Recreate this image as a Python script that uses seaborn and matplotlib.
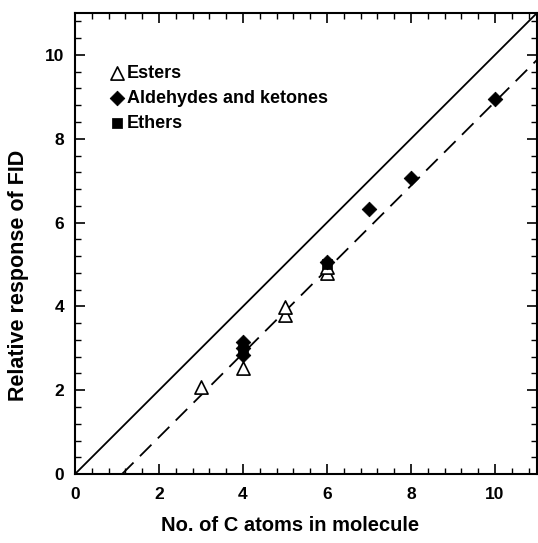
import matplotlib
matplotlib.use("Agg")
import matplotlib.pyplot as plt
import seaborn as sns
import pandas as pd
from matplotlib.ticker import MultipleLocator

sns.set_theme(style="ticks")
plt.rcParams['font.family'] = ['Liberation Sans', 'DejaVu Sans']
plt.rcParams['font.weight'] = 'bold'
plt.rcParams['text.color'] = 'black'
plt.rcParams['axes.labelcolor'] = 'black'

# Data
ester_x = [3, 4, 5, 5, 6, 6]
ester_y = [2.07, 2.52, 3.8, 3.99, 4.8, 4.95]
ald_x = [4, 4, 4, 6, 7, 8, 10]
ald_y = [2.85, 3.0, 3.15, 5.05, 6.32, 7.06, 8.95]
ether_x = [4, 6]
ether_y = [2.95, 5.0]

solid_x = [0, 11]
solid_y = [0, 11]
dash_x = [1.12, 11]
dash_y = [0, 9.88]

fig = plt.figure(figsize=(5.38, 5.43), dpi=100)
ax = fig.add_axes([0.1394, 0.127, 0.8586, 0.849])

sns.lineplot(x=solid_x, y=solid_y, ax=ax, color='black', lw=1.3)
sns.lineplot(x=dash_x, y=dash_y, ax=ax, color='black', lw=1.3, dashes=False)
ax.lines[-1].set_dashes([9, 5])

sns.scatterplot(x=ester_x, y=ester_y, ax=ax, marker='^', s=90, facecolor='white',
                edgecolor='black', linewidth=1.2, label='Esters', zorder=3)
sns.scatterplot(x=ald_x, y=ald_y, ax=ax, marker='D', s=55, color='black',
                edgecolor='black', label='Aldehydes and ketones', zorder=4)
sns.scatterplot(x=ether_x, y=ether_y, ax=ax, marker='s', s=45, color='black',
                edgecolor='black', label='Ethers', zorder=4)

ax.set_xlim(0, 11)
ax.set_ylim(0, 11)
ax.xaxis.set_major_locator(MultipleLocator(2))
ax.yaxis.set_major_locator(MultipleLocator(2))
ax.xaxis.set_minor_locator(MultipleLocator(0.4))
ax.yaxis.set_minor_locator(MultipleLocator(0.4))
ax.tick_params(which='both', direction='in', top=True, right=True, colors='black',
               labelsize=12.5)
ax.tick_params(axis='x', which='major', pad=9)
ax.tick_params(axis='y', which='major', pad=8)
ax.tick_params(which='major', length=7, width=1.2)
ax.tick_params(which='minor', length=4, width=1.0)
for sp in ax.spines.values():
    sp.set_linewidth(1.5)
    sp.set_color('black')

ax.set_xlabel('No. of C atoms in molecule', fontsize=14.5, labelpad=6,
              fontweight='bold', color='black')
ax.set_ylabel('Relative response of FID', fontsize=15.5, labelpad=10,
              fontweight='bold', color='black')
ax.xaxis.set_label_coords(0.465, -0.09)
ax.yaxis.set_label_coords(-0.1, 0.43)

leg = ax.legend(loc='upper left', bbox_to_anchor=(0.055, 0.904), frameon=False,
                prop={'size': 13, 'weight': 'bold'}, handletextpad=0.05,
                labelspacing=0.45, handlelength=1.0, borderaxespad=0,
                labelcolor='black')

fig.savefig('out.png', dpi=100)
